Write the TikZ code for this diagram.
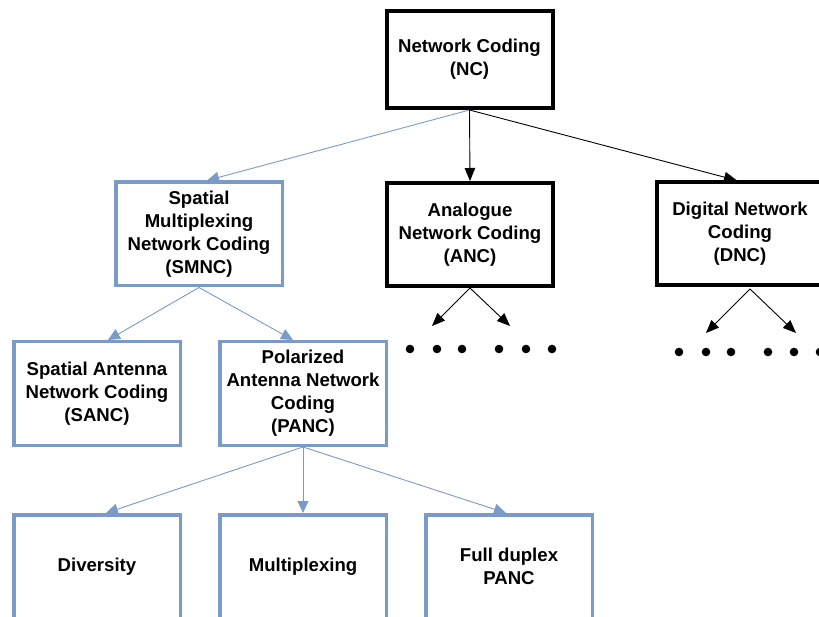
\documentclass[tikz,border=0pt]{standalone}
\usepackage{fontspec}
\setmainfont{Liberation Sans}
\usetikzlibrary{arrows.meta,calc}
\definecolor{boxblue}{RGB}{122,154,200}
\begin{document}
\begin{tikzpicture}[x=1pt,y=-1pt,
  box/.style={rectangle,align=center,inner sep=0pt,
    font=\fontsize{18.6}{23}\selectfont\bfseries},
  blackbox/.style={box,draw=black,line width=4pt,
    minimum width=166pt,minimum height=103pt},
  bluebox/.style={box,draw=boxblue,line width=3.5pt,
    minimum width=166.5pt,minimum height=103.5pt},
  blackarrow/.style={draw=black,line width=0.9pt,-{Triangle[length=13pt,width=10.5pt]}},
  bluearrow/.style={draw=boxblue,line width=0.9pt,-{Triangle[length=12pt,width=11pt]}},
  dot/.style={fill=black}]
\useasboundingbox (0,0) rectangle (819,617);
\clip (0,0) rectangle (819,617);

% top level
\node[blackbox,minimum height=97pt] (nc) at (469.5,59.5) {Network Coding\\(NC)};

% second level
\node[bluebox] (smnc) at (199,234) {Spatial\\Multiplexing\\Network Coding\\(SMNC)};
\node[blackbox] (anc) at (470,234.5) {Analogue\\Network Coding\\(ANC)};
\node[blackbox] (dnc) at (740,234) {Digital Network\\Coding\\(DNC)};

% third level
\node[bluebox] (sanc) at (97,393.5) {Spatial Antenna\\Network Coding\\(SANC)};
\node[bluebox] (panc) at (303,393.5) {Polarized\\Antenna Network\\Coding\\(PANC)};

% fourth level
\node[bluebox] (div) at (97,566.5) {Diversity};
\node[bluebox] (mux) at (303,566.5) {Multiplexing};
\node[bluebox] (fd) at (509,566.5) {Full duplex\\PANC};

% open branches below ANC and DNC
\coordinate (ancl) at (432,326);
\coordinate (ancr) at (510,326);
\coordinate (dncs) at (750,289);
\coordinate (dncl) at (706,333);
\coordinate (dncr) at (796,333);

% connectors
\draw[bluearrow] (nc.south) -- ($(smnc.north)+(8,0)$);
\draw[blackarrow] (nc.south) -- (anc.north);
\draw[blackarrow] (nc.south) -- ($(dnc.north)+(-3,0)$);

\draw[blackarrow] (anc.south) -- (ancl);
\draw[blackarrow] (anc.south) -- (ancr);
\draw[blackarrow] (dncs) -- (dncl);
\draw[blackarrow] (dncs) -- (dncr);

\draw[bluearrow] (smnc.south) -- ($(sanc.north)+(11,0)$);
\draw[bluearrow] (smnc.south) -- ($(panc.north)+(-10,0)$);

\draw[bluearrow] (panc.south) -- ($(div.north)+(9,0)$);
\draw[bluearrow] (panc.south) -- (mux.north);
\draw[bluearrow] (panc.south) -- ($(fd.north)+(-3,0)$);

% ellipsis dots
\foreach \x in {410,437,462,499,526,552} \fill[dot] (\x,349) circle (4.3);
\foreach \x in {679,706,731,768,794,820} \fill[dot] (\x,352) circle (4.3);
\end{tikzpicture}
\end{document}
